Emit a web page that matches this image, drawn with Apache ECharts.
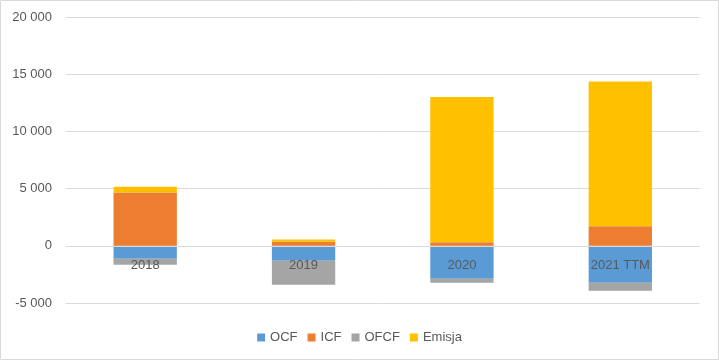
<!DOCTYPE html>
<html>
<head>
<meta charset="utf-8">
<script src="https://cdn.jsdelivr.net/npm/echarts@6/dist/echarts.min.js"></script>
<style>
html,body{margin:0;padding:0;background:#fff;}
#chart{width:719px;height:360px;}
</style>
</head>
<body>
<div id="chart"></div>
<script>
const categories = ['2018', '2019', '2020', '2021 TTM'];
const ocf = [-1140, -1310, -2890, -3240];
const icf = [4650, 350, 300, 1710];
const ofcf = [-520, -2100, -330, -700];
const emisja = [520, 200, 12700, 12650];
const yTicks = { min: -5000, max: 20000, interval: 5000 };

const fmt = v => String(v).replace(/\B(?=(\d{3})+(?!\d))/g, ' ');
const font = 'Liberation Sans, Arial, sans-serif';

const chart = echarts.init(document.getElementById('chart'));
const mk = (name, data, color) => ({
  name, type: 'bar', stack: 'a', data, barWidth: '40%',
  itemStyle: { color }, emphasis: { disabled: true }
});
chart.setOption({
  animation: false,
  textStyle: { fontFamily: font },
  graphic: [{
    type: 'rect', shape: { x: 0.5, y: 0.5, width: 718, height: 359 },
    style: { fill: 'none', stroke: '#d9d9d9', lineWidth: 1 }, silent: true
  }],
  grid: { left: 66, right: 19.5, top: 17, bottom: 57, containLabel: false },
  legend: {
    top: 326, left: 'center', itemWidth: 8, itemHeight: 8, itemGap: 10,
    icon: 'rect',
    textStyle: { fontSize: 13, color: '#595959', fontFamily: font },
    data: ['OCF', 'ICF', 'OFCF', 'Emisja']
  },
  xAxis: {
    type: 'category', data: categories, z: 10,
    axisLine: { onZero: true, lineStyle: { color: '#d9d9d9' } },
    axisTick: { show: false },
    axisLabel: { fontSize: 13, color: '#595959', margin: -44, fontFamily: font }
  },
  yAxis: {
    type: 'value', min: yTicks.min, max: yTicks.max, interval: yTicks.interval,
    axisLine: { show: false }, axisTick: { show: false },
    splitLine: { lineStyle: { color: '#d9d9d9' } },
    axisLabel: { fontSize: 13, color: '#595959', margin: 14, formatter: fmt, fontFamily: font }
  },
  series: [
    mk('OCF', ocf, '#5B9BD5'),
    mk('ICF', icf, '#ED7D31'),
    mk('OFCF', ofcf, '#A5A5A5'),
    mk('Emisja', emisja, '#FFC000')
  ]
});
</script>
</body>
</html>
